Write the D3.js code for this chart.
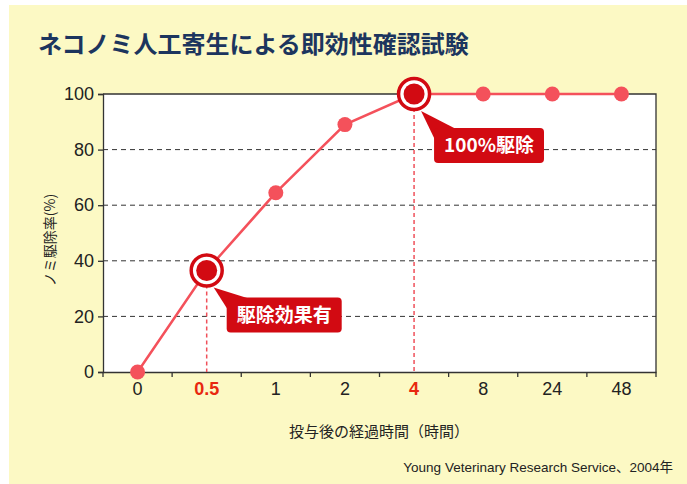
<!DOCTYPE html>
<html><head><meta charset="utf-8">
<script src="https://cdn.jsdelivr.net/npm/d3@7"></script>
<style>
html,body{margin:0;padding:0;background:#fff;}
svg{display:block;}
</style></head>
<body>
<script>
const categories = ["0","0.5","1","2","4","8","24","48"];
const values = [0, 36.5, 64.5, 89, 100, 100, 100, 100];
const yTicks = [0, 20, 40, 60, 80, 100];
const highlighted = ["0.5", "4"];
const calloutCats = ["0.5", "4"];
const calloutTexts = ["駆除効果有", "100%駆除"];
const title = "ネコノミ人工寄生による即効性確認試験";
const yTitle = "ノミ駆除率(%)";
const xTitle = "投与後の経過時間（時間）";
const source = "Young Veterinary Research Service、2004年";

const W = 687, H = 484;
const m = {left:103, right:656, top:94, bottom:372};
const jp = "'Noto Sans CJK JP', sans-serif";
const num = "'Liberation Sans', Arial, 'Noto Sans CJK JP', sans-serif";
const red = "#f4515b", dark = "#d20a12";

const svg = d3.select("body").append("svg").attr("width", W).attr("height", H);
svg.append("rect").attr("x",0).attr("y",0).attr("width",W).attr("height",H).attr("fill","#fff");
svg.append("rect").attr("x",9).attr("y",5).attr("width",W-9).attr("height",H-5).attr("fill","#fcf9c4");

svg.append("text").attr("x",38).attr("y",53).text(title)
  .attr("font-family",jp).attr("font-weight","bold").attr("font-size",24).attr("fill","#1c355e");

const x = d3.scaleBand().domain(categories).range([m.left, m.right]);
const cx = c => x(c) + x.bandwidth()/2;
const y = d3.scaleLinear().domain([0,100]).range([m.bottom, m.top]);

svg.append("rect").attr("x",m.left).attr("y",m.top).attr("width",m.right-m.left).attr("height",m.bottom-m.top).attr("fill","#fff");

// grid
svg.append("g").selectAll("line").data(yTicks.filter(d=>d>0 && d<100)).join("line")
  .attr("x1",m.left).attr("x2",m.right).attr("y1",d=>y(d)).attr("y2",d=>y(d))
  .attr("stroke","#333").attr("stroke-width",1).attr("stroke-dasharray","5,4");

// frame top/right
svg.append("path").attr("d",`M${m.left},${m.top}H${m.right}V${m.bottom}`).attr("fill","none").attr("stroke","#333").attr("stroke-width",1.3);

// y axis
const yAxis = svg.append("g").attr("transform",`translate(${m.left},0)`)
  .call(d3.axisLeft(y).tickValues(yTicks).tickSize(5).tickPadding(4));
yAxis.selectAll("text").attr("font-family",num).attr("font-size",18).attr("fill","#222");
yAxis.selectAll("line,path").attr("stroke","#333").attr("stroke-width",1.3);

// x axis
const xAxis = svg.append("g").attr("transform",`translate(0,${m.bottom})`)
  .call(d3.axisBottom(x).tickSize(0).tickPadding(10));
xAxis.select("path").attr("stroke","#333").attr("stroke-width",1.3);
xAxis.selectAll("text").attr("font-family",num).attr("font-size",18)
  .attr("fill",d=>highlighted.includes(d)?"#e8280f":"#222")
  .attr("font-weight",d=>highlighted.includes(d)?"bold":"normal");
const bounds = categories.map(c=>x(c)).concat([m.right]);
svg.append("g").selectAll("line").data(bounds).join("line")
  .attr("x1",d=>d).attr("x2",d=>d).attr("y1",m.bottom).attr("y2",m.bottom+5)
  .attr("stroke","#333").attr("stroke-width",1.3);

// dashed verticals
svg.append("g").selectAll("line").data(highlighted).join("line")
  .attr("x1",d=>cx(d)).attr("x2",d=>cx(d))
  .attr("y1",d=>y(values[categories.indexOf(d)])).attr("y2",m.bottom)
  .attr("stroke","#f0505a").attr("stroke-width",1.5).attr("stroke-dasharray","4,3");

// line
const pts = categories.map((c,i)=>[cx(c), y(values[i])]);
svg.append("path").attr("d",d3.line()(pts)).attr("fill","none").attr("stroke",red).attr("stroke-width",2.5);

// dots
svg.append("g").selectAll("circle").data(categories.filter(c=>!highlighted.includes(c))).join("circle")
  .attr("cx",d=>cx(d)).attr("cy",d=>y(values[categories.indexOf(d)])).attr("r",7.5).attr("fill",red);

const hl = svg.append("g").selectAll("g").data(highlighted).join("g")
  .attr("transform",d=>`translate(${cx(d)},${y(values[categories.indexOf(d)])})`);
hl.append("circle").attr("r",15.5).attr("fill","#fff").attr("stroke",dark).attr("stroke-width",3.5);
hl.append("circle").attr("r",10.5).attr("fill",dark);

// callouts
calloutCats.forEach((c,i)=>{
  const px = cx(c), py = y(values[categories.indexOf(c)]);
  const g = svg.append("g");
  const t = g.append("text").text(calloutTexts[i]).attr("font-family",jp).attr("font-weight","bold")
    .attr("font-size",19).attr("fill","#fff");
  const tw = t.node().getComputedTextLength();
  const rx = px + 20, ry = py + (i===0?27:34), rw = tw + 20, rh = 35;
  g.insert("path","text").attr("d",`M${px+7},${py+17}L${rx+22},${ry+1}L${rx+1},${ry+12}Z`).attr("fill",dark);
  g.insert("rect","text").attr("x",rx).attr("y",ry).attr("width",rw).attr("height",rh).attr("rx",4).attr("fill",dark);
  t.attr("x",rx+10).attr("y",ry+rh/2).attr("dy","0.36em");
});

// axis titles
svg.append("text").attr("transform",`translate(55,240) rotate(-90)`).attr("text-anchor","middle")
  .text(yTitle).attr("font-family",jp).attr("font-size",14).attr("fill","#222");
svg.append("text").attr("x",379).attr("y",437).attr("text-anchor","middle")
  .text(xTitle).attr("font-family",jp).attr("font-size",15).attr("fill","#222");
svg.append("text").attr("x",673).attr("y",472).attr("text-anchor","end")
  .text(source).attr("font-family",num).attr("font-size",13.5).attr("fill","#222");
</script>
</body></html>
